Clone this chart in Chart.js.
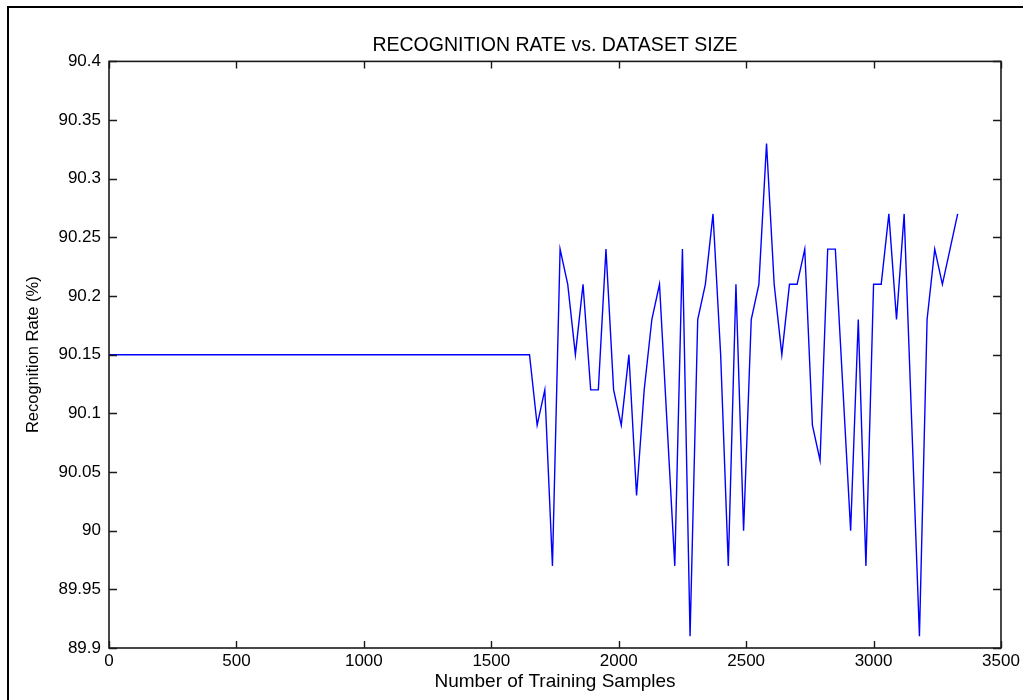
<!DOCTYPE html>
<html>
<head>
<meta charset="utf-8">
<title>Recognition rate vs. dataset size</title>
<script src="https://cdn.jsdelivr.net/npm/chart.js@4/dist/chart.umd.min.js"></script>
<style>
  html, body { margin: 0; padding: 0; background: #fff; }
  canvas { display: block; }
</style>
</head>
<body>
<canvas id="chart" width="1023" height="700"></canvas>
<script>
// Training set sizes and the recognition rate measured at each size
const sampleCounts = [
  0, 1650, 1680, 1710, 1740, 1770, 1800, 1830, 1860, 1890, 1920, 1950, 1980,
  2010, 2040, 2070, 2100, 2130, 2160, 2190, 2220, 2250, 2280, 2310, 2340,
  2370, 2400, 2430, 2460, 2490, 2520, 2550, 2580, 2610, 2640, 2670, 2700,
  2730, 2760, 2790, 2820, 2850, 2880, 2910, 2940, 2970, 3000, 3030, 3060,
  3090, 3120, 3150, 3180, 3210, 3240, 3270, 3300, 3330
];
const recognitionRates = [
  90.15, 90.15, 90.09, 90.12, 89.97, 90.24, 90.21, 90.15, 90.21, 90.12, 90.12, 90.24, 90.12,
  90.09, 90.15, 90.03, 90.12, 90.18, 90.21, 90.09, 89.97, 90.24, 89.91, 90.18, 90.21,
  90.27, 90.15, 89.97, 90.21, 90.00, 90.18, 90.21, 90.33, 90.21, 90.15, 90.21, 90.21,
  90.24, 90.09, 90.06, 90.24, 90.24, 90.12, 90.00, 90.18, 89.97, 90.21, 90.21, 90.27,
  90.18, 90.27, 90.09, 89.91, 90.18, 90.24, 90.21, 90.24, 90.27
];

// Axis ticks
const xTickValues = [0, 500, 1000, 1500, 2000, 2500, 3000, 3500];
const xTickLabels = ['0', '500', '1000', '1500', '2000', '2500', '3000', '3500'];
const yTickValues = [89.9, 89.95, 90, 90.05, 90.1, 90.15, 90.2, 90.25, 90.3, 90.35, 90.4];
const yTickLabels = ['89.9', '89.95', '90', '90.05', '90.1', '90.15', '90.2', '90.25', '90.3', '90.35', '90.4'];

const FONT_FAMILY = '"Liberation Sans", Arial, Helvetica, sans-serif';

// Frame lines along the left and top edges of the figure
const figureFrame = {
  id: 'figureFrame',
  beforeDraw(chart) {
    const ctx = chart.ctx;
    ctx.save();
    ctx.fillStyle = '#fff';
    ctx.fillRect(0, 0, chart.width, chart.height);
    ctx.fillStyle = '#000';
    ctx.fillRect(7, 6, 2, chart.height - 6);
    ctx.fillRect(7, 6, chart.width - 7, 2);
    ctx.restore();
  }
};

// Boxed axes with inward tick marks on all four sides
const boxedAxes = {
  id: 'boxedAxes',
  afterDatasetsDraw(chart) {
    const { ctx, chartArea: a, scales } = chart;
    ctx.save();
    ctx.strokeStyle = '#1a1a1a';
    ctx.lineWidth = 1.4;
    ctx.beginPath();
    xTickValues.forEach(v => {
      const px = Math.round(scales.x.getPixelForValue(v)) + 0.5;
      ctx.moveTo(px, a.bottom); ctx.lineTo(px, a.bottom - 7);
      ctx.moveTo(px, a.top); ctx.lineTo(px, a.top + 7);
    });
    yTickValues.forEach(v => {
      const py = Math.round(scales.y.getPixelForValue(v)) + 0.5;
      ctx.moveTo(a.left, py); ctx.lineTo(a.left + 8, py);
      ctx.moveTo(a.right, py); ctx.lineTo(a.right - 8, py);
    });
    ctx.stroke();
    ctx.lineWidth = 1.6;
    ctx.strokeRect(a.left, a.top, a.right - a.left, a.bottom - a.top);
    ctx.restore();
  }
};

new Chart(document.getElementById('chart'), {
  type: 'line',
  data: {
    datasets: [{
      data: sampleCounts.map((x, i) => ({ x: x, y: recognitionRates[i] })),
      borderColor: '#0000ff',
      borderWidth: 1.4,
      pointRadius: 0,
      tension: 0,
      fill: false
    }]
  },
  options: {
    responsive: false,
    animation: false,
    devicePixelRatio: 1,
    layout: { padding: { left: 0, right: 22, top: 0, bottom: 0 } },
    plugins: {
      legend: { display: false },
      tooltip: { enabled: false },
      title: {
        display: true,
        fullSize: false,
        text: 'RECOGNITION RATE vs. DATASET SIZE',
        color: '#000',
        font: { family: FONT_FAMILY, size: 19.5, weight: 'normal' },
        padding: { top: 34, bottom: 4 }
      }
    },
    scales: {
      x: {
        type: 'linear',
        min: 0,
        max: 3500,
        afterBuildTicks: s => { s.ticks = xTickValues.map(v => ({ value: v })); },
        afterFit: s => { s.height = 52; },
        grid: { display: false, drawTicks: false },
        border: { display: false },
        ticks: {
          callback: (v, i) => xTickLabels[i],
          color: '#000',
          padding: 3,
          maxRotation: 0,
          autoSkip: false,
          font: { family: FONT_FAMILY, size: 17 }
        },
        title: {
          display: true,
          text: 'Number of Training Samples',
          color: '#000',
          font: { family: FONT_FAMILY, size: 19 },
          padding: { top: 0, bottom: 7 }
        }
      },
      y: {
        type: 'linear',
        min: 89.9,
        max: 90.4,
        afterBuildTicks: s => { s.ticks = yTickValues.map(v => ({ value: v })); },
        afterFit: s => { s.width = 109; },
        grid: { display: false, drawTicks: false },
        border: { display: false },
        ticks: {
          callback: (v, i) => yTickLabels[i],
          color: '#000',
          padding: 8,
          autoSkip: false,
          font: { family: FONT_FAMILY, size: 17 }
        },
        title: {
          display: true,
          text: 'Recognition Rate (%)',
          color: '#000',
          font: { family: FONT_FAMILY, size: 16.5 },
          padding: { top: 24, bottom: 0 }
        }
      }
    }
  },
  plugins: [figureFrame, boxedAxes]
});
</script>
</body>
</html>
